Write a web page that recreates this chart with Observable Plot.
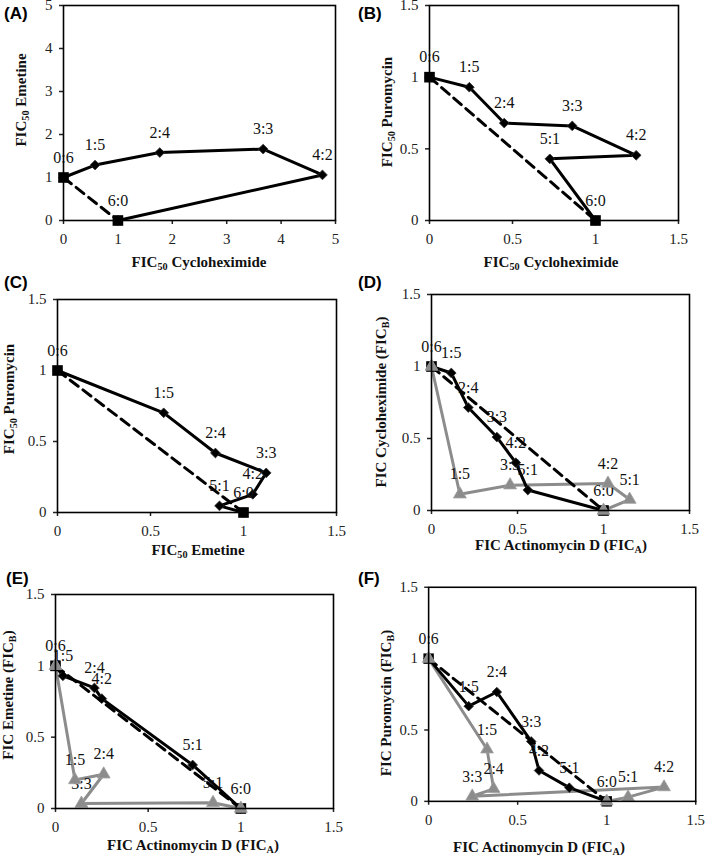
<!DOCTYPE html>
<html><head><meta charset="utf-8">
<script src="https://cdn.jsdelivr.net/npm/d3@7"></script>
<script src="https://cdn.jsdelivr.net/npm/@observablehq/plot@0.6"></script>
<style>
body{margin:0;background:#fff;}
#wrap{position:relative;width:709px;height:856px;overflow:hidden;background:#fff;}
.box{position:absolute;}
#wrap svg, #wrap svg text{font-family:"Liberation Serif","Times New Roman",serif !important;}
.t{position:absolute;white-space:nowrap;font-family:"Liberation Serif","Times New Roman",serif;font-weight:bold;font-size:15px;color:#111;line-height:1;}
.p{position:absolute;white-space:nowrap;font-family:"Liberation Sans",Arial,sans-serif;font-weight:bold;font-size:17px;line-height:1;color:#000;}
.t sub{font-size:0.68em;vertical-align:-0.35em;line-height:0;}
</style></head><body><div id="wrap"></div>
<script>
// ---- data ----
const ticks15 = [0, 0.5, 1, 1.5];
const ticks5 = [0, 1, 2, 3, 4, 5];
const additiveX = [0, 1];
const additiveY = [1, 0];

// (A) cycloheximide vs emetine
const aLabels = ["0:6", "1:5", "2:4", "3:3", "4:2", "6:0"];
const aX = [0, 0.58, 1.77, 3.67, 4.76, 1];
const aY = [1, 1.29, 1.58, 1.66, 1.06, 0];

// (B) cycloheximide vs puromycin
const bLabels = ["0:6", "1:5", "2:4", "3:3", "4:2", "5:1", "6:0"];
const bX = [0, 0.24, 0.45, 0.86, 1.245, 0.725, 1];
const bY = [1, 0.93, 0.68, 0.66, 0.455, 0.43, 0];

// (C) emetine vs puromycin
const cLabels = ["0:6", "1:5", "2:4", "3:3", "4:2", "5:1", "6:0"];
const cX = [0, 0.571, 0.849, 1.122, 1.05, 0.871, 1];
const cY = [1, 0.702, 0.419, 0.279, 0.128, 0.047, 0];

// (D) actinomycin D vs cycloheximide
const dLabels = ["0:6", "1:5", "2:4", "3:3", "4:2", "5:1", "6:0"];
const dX = [0, 0.115, 0.214, 0.38, 0.49, 0.56, 1];
const dY = [1, 0.955, 0.715, 0.51, 0.332, 0.142, 0];
const dGrayLabels = ["", "1:5", "3:3", "4:2", "5:1", ""];
const dGrayX = [0, 0.165, 0.457, 1.026, 1.152, 1];
const dGrayY = [1, 0.113, 0.176, 0.1875, 0.076, 0];

// (E) actinomycin D vs emetine
const eLabels = ["0:6", "1:5", "2:4", "4:2", "5:1", "6:0"];
const eX = [0, 0.04, 0.21, 0.25, 0.74, 1];
const eY = [1, 0.93, 0.845, 0.77, 0.305, 0];
const eGrayLabels = ["", "1:5", "2:4", "3:3", "5:1", ""];
const eGrayX = [0, 0.105, 0.26, 0.14, 0.85, 1];
const eGrayY = [1, 0.2, 0.24, 0.035, 0.04, 0];

// (F) actinomycin D vs puromycin
const fLabels = ["0:6", "1:5", "2:4", "3:3", "4:2", "5:1", "6:0"];
const fX = [0, 0.225, 0.383, 0.576, 0.62, 0.79, 1];
const fY = [1, 0.667, 0.766, 0.42, 0.216, 0.096, 0];
const fGrayLabels = ["", "1:5", "2:4", "3:3", "4:2", "5:1", ""];
const fGrayX = [0, 0.328, 0.365, 0.245, 1.322, 1.12, 1];
const fGrayY = [1, 0.365, 0.088, 0.036, 0.10, 0.03, 0];

// ---- layout ----
const wrap = document.getElementById("wrap");
const GRAY = "#8c8c8c";
const SERIF = '"Liberation Serif","Times New Roman",serif';

function rows(xs, ys, labels) {
  return xs.map((x, i) => ({x, y: ys[i], label: labels ? labels[i] : ""}));
}

function panel(cfg) {
  const [l, t, r, b] = cfg.frame;
  const ml = 48, mr = 14, mt = Math.min(12, t), mb = 30;
  const W = r - l + ml + mr, H = b - t + mt + mb;
  const black = rows(cfg.x, cfg.y, cfg.labels);
  const gray = cfg.gx ? rows(cfg.gx, cfg.gy, cfg.glabels) : [];
  const ends = rows(additiveX, additiveY);
  const fmt = d => String(d);
  const lab = {x: "x", y: "y", text: "label", dy: -20, fill: "#111", fontSize: 16, fontFamily: SERIF};
  const marks = [
    Plot.axisX({ticks: cfg.ticks, tickFormat: fmt, tickSize: 4, tickPadding: 9, label: null, strokeWidth: 1.5, fill: "#222", fontSize: 15, fontFamily: SERIF}),
    Plot.axisY({ticks: cfg.ticks, tickFormat: fmt, tickSize: 4, tickPadding: 7, label: null, strokeWidth: 1.5, fill: "#222", fontSize: 15, fontFamily: SERIF})
  ];
  if (gray.length) {
    marks.push(
      Plot.line(gray, {x: "x", y: "y", stroke: GRAY, strokeWidth: 3}),
      Plot.text(gray.filter(d => d.label), lab)
    );
  }
  marks.push(
    Plot.line(black, {x: "x", y: "y", stroke: "black", strokeWidth: 3}),
    Plot.dot(black, {x: "x", y: "y", symbol: "diamond2", r: 4.4, fill: "black", stroke: "#333", strokeWidth: 0.8}),
    Plot.text(black, lab),
    Plot.line(ends, {x: "x", y: "y", stroke: "black", strokeWidth: 3, strokeDasharray: "10,6"}),
    Plot.dot(ends, {x: "x", y: "y", symbol: "square", r: 6, fill: "black"})
  );
  if (gray.length) {
    marks.push(Plot.dot(gray, {x: "x", y: "y", symbol: "triangle", r: 4.8, fill: GRAY, stroke: "#a0a0a0", strokeWidth: 0.8}));
  }
  marks.push(Plot.frame({stroke: "black", strokeWidth: 1.6}));

  const svg = Plot.plot({
    width: W, height: H,
    marginLeft: ml, marginRight: mr, marginTop: mt, marginBottom: mb,
    style: {fontFamily: SERIF, fontSize: "15px", color: "#222", background: "transparent", overflow: "visible"},
    x: {domain: cfg.domain},
    y: {domain: cfg.domain},
    marks
  });
  const box = document.createElement("div");
  box.className = "box";
  box.style.left = (l - ml) + "px";
  box.style.top = (t - mt) + "px";
  box.appendChild(svg);
  wrap.appendChild(box);
}

function text(cls, html, cx, cy, rotate) {
  const d = document.createElement("div");
  d.className = cls;
  d.innerHTML = html;
  d.style.left = cx + "px";
  d.style.top = cy + "px";
  d.style.transform = "translate(-50%,-50%)" + (rotate ? " rotate(-90deg)" : "");
  wrap.appendChild(d);
}
function tag(label, x, cy) {
  const d = document.createElement("div");
  d.className = "p";
  d.textContent = label;
  d.style.left = x + "px";
  d.style.top = cy + "px";
  d.style.transform = "translateY(-50%)";
  wrap.appendChild(d);
}

panel({frame: [63, 5, 335, 220], domain: [0, 5], ticks: ticks5, x: aX, y: aY, labels: aLabels});
panel({frame: [429, 5, 678, 220], domain: [0, 1.5], ticks: ticks15, x: bX, y: bY, labels: bLabels});
panel({frame: [57, 299, 336, 512], domain: [0, 1.5], ticks: ticks15, x: cX, y: cY, labels: cLabels});
panel({frame: [431, 294, 689, 510], domain: [0, 1.5], ticks: ticks15, x: dX, y: dY, labels: dLabels,
       gx: dGrayX, gy: dGrayY, glabels: dGrayLabels});
panel({frame: [55, 594, 333, 808], domain: [0, 1.5], ticks: ticks15, x: eX, y: eY, labels: eLabels,
       gx: eGrayX, gy: eGrayY, glabels: eGrayLabels});
panel({frame: [429, 587, 701, 805], domain: [0, 1.5], ticks: ticks15, x: fX, y: fY, labels: fLabels,
       gx: fGrayX, gy: fGrayY, glabels: fGrayLabels});

// axis titles
text("t", "FIC<sub>50</sub> Cycloheximide", 199, 262);
text("t", "FIC<sub>50</sub> Emetine", 21, 100, true);
text("t", "FIC<sub>50</sub> Cycloheximide", 551, 262);
text("t", "FIC<sub>50</sub> Puromycin", 387, 112, true);
text("t", "FIC<sub>50</sub> Emetine", 198, 550);
text("t", "FIC<sub>50</sub> Puromycin", 9, 399, true);
text("t", "FIC Actinomycin D (FIC<sub>A</sub>)", 561, 545);
text("t", "FIC Cycloheximide (FIC<sub>B</sub>)", 381, 402, true);
text("t", "FIC Actinomycin D (FIC<sub>A</sub>)", 193, 845);
text("t", "FIC Emetine (FIC<sub>B</sub>)", 8, 695, true);
text("t", "FIC Actinomycin D (FIC<sub>A</sub>)", 539, 847);
text("t", "FIC Puromycin (FIC<sub>B</sub>)", 386, 703, true);

// panel tags
tag("(A)", 4, 13);
tag("(B)", 358, 13);
tag("(C)", 4, 282);
tag("(D)", 358, 282);
tag("(E)", 6, 578);
tag("(F)", 358, 578);
</script>
</body></html>
